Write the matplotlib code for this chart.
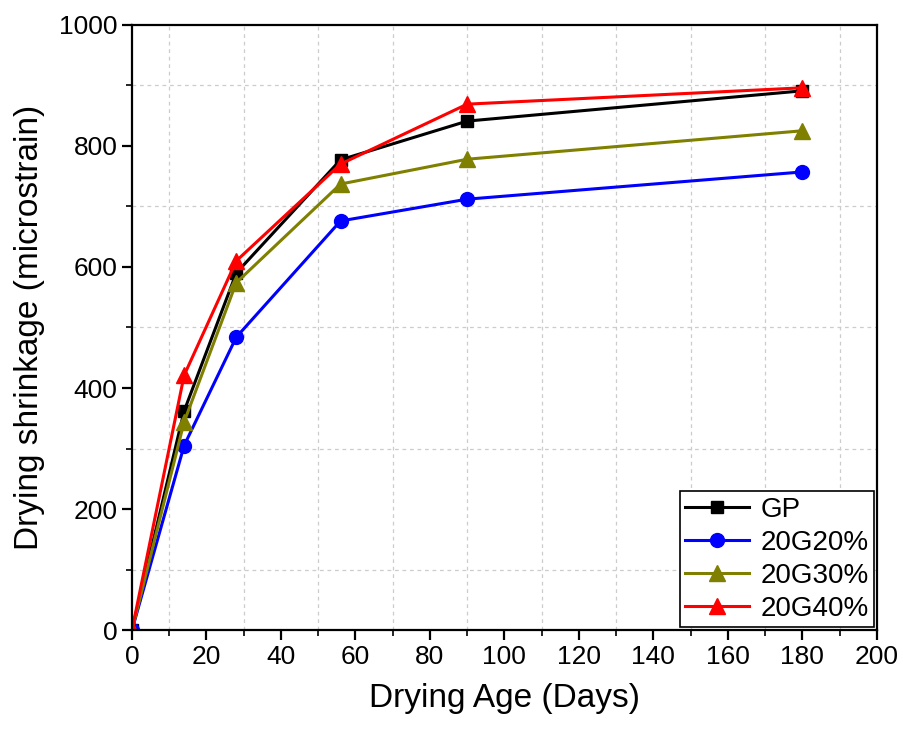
import numpy as np
import matplotlib.pyplot as plt
from matplotlib.ticker import MultipleLocator

plt.rcParams['font.family'] = ['Liberation Sans', 'DejaVu Sans']

# drying ages (days)
days = [0, 14, 28, 56, 90, 180]

# shrinkage values (microstrain) per mix
gp = [0, 362, 590, 777, 841, 891]
g20 = [0, 305, 484, 676, 712, 757]
g30 = [0, 344, 574, 737, 778, 825]
g40 = [0, 421, 610, 770, 869, 896]

fig = plt.figure(figsize=(9.04, 7.31), dpi=100)
ax = fig.add_axes([0.146, 0.138, 0.824, 0.828])

ax.plot(days, gp, color='black', marker='s', markersize=9, linewidth=2.2, label='GP')
ax.plot(days, g20, color='blue', marker='o', markersize=10, linewidth=2.2, label='20G20%')
ax.plot(days, g30, color='#808000', marker='^', markersize=11, linewidth=2.2, label='20G30%')
ax.plot(days, g40, color='red', marker='^', markersize=11, linewidth=2.2, label='20G40%')

ax.set_xlim(0, 200)
ax.set_ylim(0, 1000)
ax.xaxis.set_major_locator(MultipleLocator(20))
ax.xaxis.set_minor_locator(MultipleLocator(10))
ax.yaxis.set_major_locator(MultipleLocator(200))
ax.yaxis.set_minor_locator(MultipleLocator(100))

# grid only on the minor positions
ax.grid(which='minor', color='#cccccc', linestyle='--', linewidth=0.9, dashes=(3, 3))
ax.grid(which='major', visible=False)

ax.tick_params(which='major', direction='out', length=7, width=1.6, labelsize=19)
ax.tick_params(which='minor', direction='out', length=4, width=1.2)
for s in ax.spines.values():
    s.set_linewidth(1.6)

ax.set_xlabel('Drying Age (Days)', fontsize=24, labelpad=10)
ax.set_ylabel('Drying shrinkage (microstrain)', fontsize=24, labelpad=10)

leg = ax.legend(loc='lower right', fontsize=20, frameon=True, fancybox=False,
                edgecolor='black', framealpha=1, borderaxespad=0.1,
                handlelength=2.3, labelspacing=0.25, borderpad=0.2, handletextpad=0.4)
leg.get_frame().set_linewidth(1.2)

fig.savefig('out.png', dpi=100)
